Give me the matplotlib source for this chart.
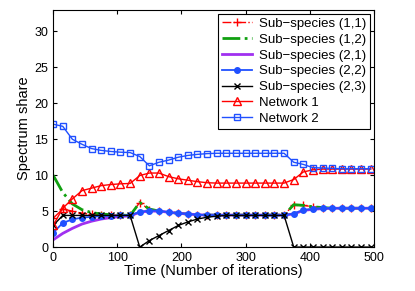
import matplotlib
matplotlib.use('Agg')
import matplotlib.pyplot as plt

plt.rcParams['font.family'] = ['Liberation Sans', 'DejaVu Sans']

t = list(range(0, 500, 15))  # 0 .. 495

sub11 = [4.0, 5.3, 5.0, 4.7, 4.55, 4.5, 4.45, 4.42, 4.4, 6.2, 5.2, 5.0, 4.85, 4.7, 4.6, 4.5,
         4.45, 4.45, 4.45, 4.45, 4.45, 4.45, 4.45, 4.45, 4.45, 5.9, 5.8, 5.6, 5.5, 5.45, 5.4, 5.4, 5.4, 5.4]
sub12 = [10.0, 7.6, 6.0, 5.2, 4.8, 4.6, 4.5, 4.45, 4.4, 6.2, 5.3, 5.0, 4.85, 4.7, 4.6, 4.5,
         4.45, 4.45, 4.45, 4.45, 4.45, 4.45, 4.45, 4.45, 4.45, 5.9, 5.8, 5.6, 5.5, 5.4, 5.4, 5.4, 5.4, 5.4]
sub21 = [1.0, 1.9, 2.6, 3.2, 3.6, 3.9, 4.1, 4.25, 4.35, 4.85, 5.0, 5.0, 4.85, 4.7, 4.6, 4.5,
         4.45, 4.45, 4.45, 4.45, 4.45, 4.45, 4.45, 4.45, 4.45, 4.6, 5.1, 5.25, 5.35, 5.4, 5.4, 5.4, 5.4, 5.4]
sub22 = [2.0, 3.35, 3.85, 4.1, 4.2, 4.3, 4.35, 4.4, 4.4, 4.9, 5.05, 5.05, 4.85, 4.7, 4.6, 4.5,
         4.45, 4.45, 4.45, 4.45, 4.45, 4.45, 4.45, 4.45, 4.45, 4.65, 5.15, 5.3, 5.4, 5.4, 5.4, 5.4, 5.4, 5.4]
sub23 = [3.0, 4.4, 4.4, 4.4, 4.4, 4.4, 4.4, 4.4, 4.4, 0.0, 0.9, 1.6, 2.3, 3.0, 3.5, 3.9,
         4.15, 4.3, 4.4, 4.4, 4.4, 4.4, 4.4, 4.4, 4.4, 0.0, 0.0, 0.0, 0.0, 0.0, 0.0, 0.0, 0.0, 0.0]
net1 = [3.0, 5.4, 6.7, 7.85, 8.2, 8.55, 8.7, 8.8, 8.85, 9.95, 10.3, 10.3, 9.8, 9.5, 9.3, 9.1,
        8.95, 8.9, 8.9, 8.9, 8.9, 8.9, 8.9, 8.9, 8.9, 9.4, 10.45, 10.75, 10.85, 10.85, 10.85, 10.85, 10.85, 10.85]
net2 = [17.1, 16.8, 15.0, 14.3, 13.7, 13.45, 13.3, 13.2, 13.15, 12.6, 11.3, 11.8, 12.1, 12.5, 12.75, 12.9,
        13.0, 13.05, 13.05, 13.05, 13.05, 13.05, 13.05, 13.05, 13.05, 11.8, 11.5, 11.05, 11.0, 10.95, 10.9, 10.9, 10.9, 10.9]

fig = plt.figure(figsize=(4.15, 2.91), dpi=100)
ax = fig.add_axes([0.128, 0.151, 0.773, 0.815])

ax.plot(t, sub11, color='red', ls='-.', marker='+', ms=6, lw=1, label='Sub\u2212species (1,1)')
ax.plot(t, sub12, color='#10a010', ls='-.', lw=2, label='Sub\u2212species (1,2)')
ax.plot(t, sub21, color='#a030f0', ls='-', lw=2, label='Sub\u2212species (2,1)')
ax.plot(t, sub22, color='#2050ff', ls='-', marker='o', ms=4, lw=1.3, label='Sub\u2212species (2,2)')
ax.plot(t, sub23, color='black', ls='-', marker='x', ms=5, lw=1, label='Sub\u2212species (2,3)')
ax.plot(t, net1, color='red', ls='-', marker='^', ms=6, mfc='none', lw=1, label='Network 1')
ax.plot(t, net2, color='#2050ff', ls='-', marker='s', ms=5, mfc='none', lw=1, label='Network 2')

ax.set_xlim(0, 500)
ax.set_ylim(0, 33)
ax.set_xticks([0, 100, 200, 300, 400, 500])
ax.set_yticks([0, 5, 10, 15, 20, 25, 30])
ax.tick_params(direction='in', top=True, right=True, labelsize=9, length=3)
ax.set_xlabel('Time (Number of iterations)', fontsize=10.5, labelpad=0)
ax.set_ylabel('Spectrum share', fontsize=10.5, labelpad=2)

leg = ax.legend(loc='upper right', fontsize=9.5, frameon=True, fancybox=False,
                edgecolor='black', framealpha=1, borderaxespad=0.3,
                handlelength=2.3, handletextpad=0.5, labelspacing=0.27, borderpad=0.3)
leg.get_frame().set_linewidth(0.8)

fig.savefig('out.png', dpi=100)
